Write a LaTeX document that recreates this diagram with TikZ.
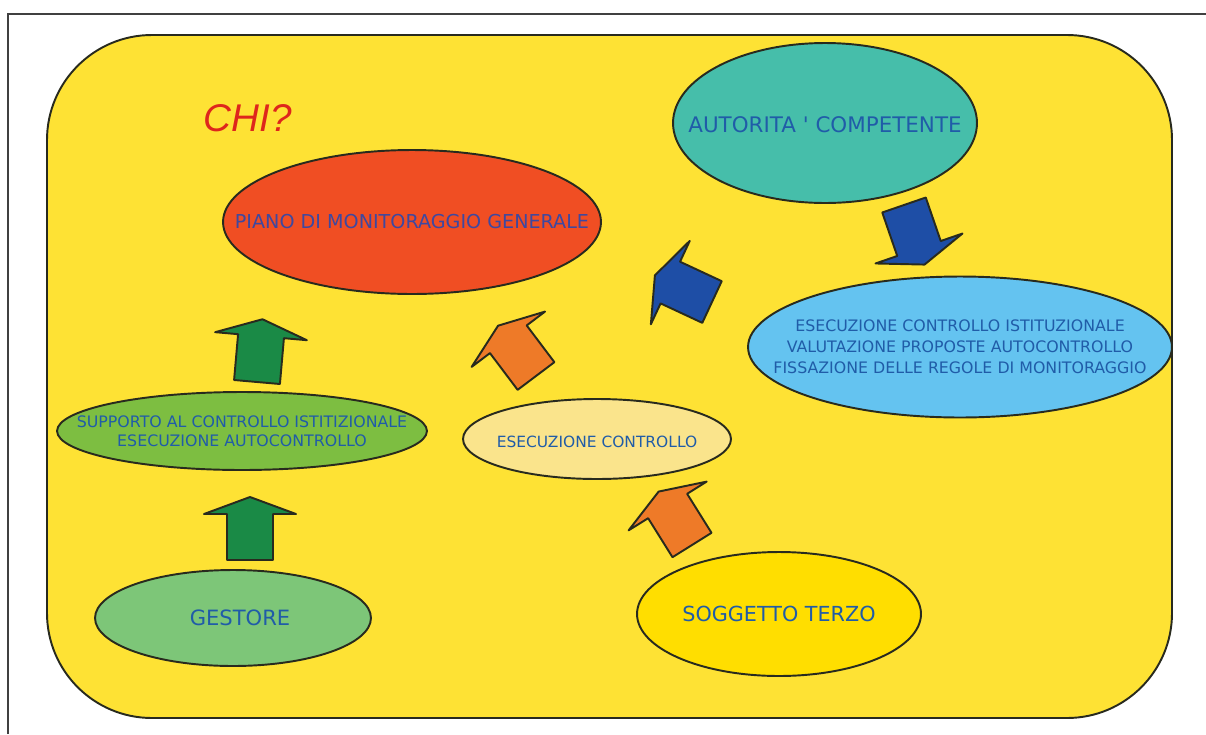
\documentclass[tikz,border=0pt]{standalone}
\usepackage{fontspec}
\setmainfont{DejaVu Sans}
\newfontfamily\chifont{Liberation Sans}
\newfontfamily\plainfont{DejaVu Sans}
\usepackage{tikz}
\usepackage{xcolor}
\usetikzlibrary{shapes.geometric}

\definecolor{bgyellow}{RGB}{254,226,52}
\definecolor{outline}{RGB}{40,42,30}
\definecolor{textblue}{RGB}{32,92,168}
\definecolor{pianoblue}{RGB}{62,72,160}
\definecolor{chired}{RGB}{222,38,28}
\definecolor{tealfill}{RGB}{70,190,170}
\definecolor{pianofill}{RGB}{240,78,35}
\definecolor{supportofill}{RGB}{125,190,65}
\definecolor{controllofill}{RGB}{250,228,140}
\definecolor{istitfill}{RGB}{100,195,240}
\definecolor{gestorefill}{RGB}{125,198,120}
\definecolor{terzofill}{RGB}{255,222,0}
\definecolor{arrowgreen}{RGB}{26,138,70}
\definecolor{arroworange}{RGB}{238,122,40}
\definecolor{arrowblue}{RGB}{30,78,166}

\begin{document}
\begin{tikzpicture}[x=0.02cm, y=-0.02cm,
            bubble/.style={ellipse, draw=outline, line width=1.1pt, inner sep=0pt},
            bubtext/.style={align=center, text=textblue, inner sep=0pt},
            pics/bigarrow/.style={code={
                \path[pic actions, draw=outline, line width=1.1pt, line join=round]
                    (-23,0) -- (23,0) -- (23,-46) -- (46,-46) -- (0,-63) -- (-46,-46) -- (-23,-46) -- cycle;
            }}
        ]
            \useasboundingbox (0,0) rectangle (1206,734);

% Frame and background
            \draw[line width=0.6pt, black!75] (8,734) -- (8,14) -- (1206,14);
            \filldraw[fill=bgyellow, draw=outline, line width=1.1pt, rounded corners=2.1cm] (47,35) rectangle (1172,718);

            \node[font=\chifont\itshape\fontsize{22}{26}\selectfont, text=chired] (chi) at (248,118) {CHI?};

% Ellipses
            \node[bubble, fill=tealfill, minimum width=6.08cm, minimum height=3.2cm] (autorita) at (825,123) {};
            \node[bubble, fill=pianofill, minimum width=7.56cm, minimum height=2.88cm] (piano) at (412,222) {};
            \node[bubble, fill=istitfill, minimum width=8.48cm, minimum height=2.82cm] (istituz) at (960,347) {};
            \node[bubble, fill=supportofill, minimum width=7.4cm, minimum height=1.56cm] (supporto) at (242,431) {};
            \node[bubble, fill=controllofill, minimum width=5.36cm, minimum height=1.6cm] (controllo) at (597,439) {};
            \node[bubble, fill=gestorefill, minimum width=5.52cm, minimum height=1.92cm] (gestore) at (233,618) {};
            \node[bubble, fill=terzofill, minimum width=5.68cm, minimum height=2.48cm] (terzo) at (779,614) {};

% Texts
            \node[bubtext, font=\plainfont\fontsize{12.2}{14}\selectfont] (autoritatxt) at ([yshift=-0.04cm]autorita) {AUTORITA ' COMPETENTE};
            \node[bubtext, text=pianoblue, font=\fontsize{10.9}{13}\selectfont] (pianotxt) at (piano) {PIANO DI MONITORAGGIO GENERALE};
            \node[bubtext, font=\fontsize{9}{11.9}\selectfont] (istituztxt) at (istituz) {ESECUZIONE CONTROLLO ISTITUZIONALE\\VALUTAZIONE PROPOSTE AUTOCONTROLLO\\FISSAZIONE DELLE REGOLE DI MONITORAGGIO};
            \node[bubtext, font=\fontsize{9}{11}\selectfont] (supportotxt) at (supporto) {SUPPORTO AL CONTROLLO ISTITIZIONALE\\ESECUZIONE AUTOCONTROLLO};
            \node[bubtext, font=\fontsize{8.8}{11}\selectfont] (controllotxt) at ([yshift=-0.06cm]controllo) {ESECUZIONE CONTROLLO};
            \node[bubtext, font=\fontsize{12}{14}\selectfont] (gestoretxt) at ([xshift=0.14cm]gestore) {GESTORE};
            \node[bubtext, font=\fontsize{11.8}{14}\selectfont] (terzotxt) at (terzo) {SOGGETTO TERZO};

% Block arrows
            \pic[fill=arrowgreen, rotate=-5] at (257,382) {bigarrow};
            \pic[fill=arrowgreen] at (250,560) {bigarrow};
            \pic[fill=arroworange, rotate=37] at (536,376) {bigarrow};
            \pic[fill=arroworange, rotate=32] at (692,545) {bigarrow};
            \pic[fill=arrowblue, rotate=65] at (712,302) {bigarrow};
            \pic[fill=arrowblue, rotate=-161] at (904,205) {bigarrow};

        \end{tikzpicture}
\end{document}
